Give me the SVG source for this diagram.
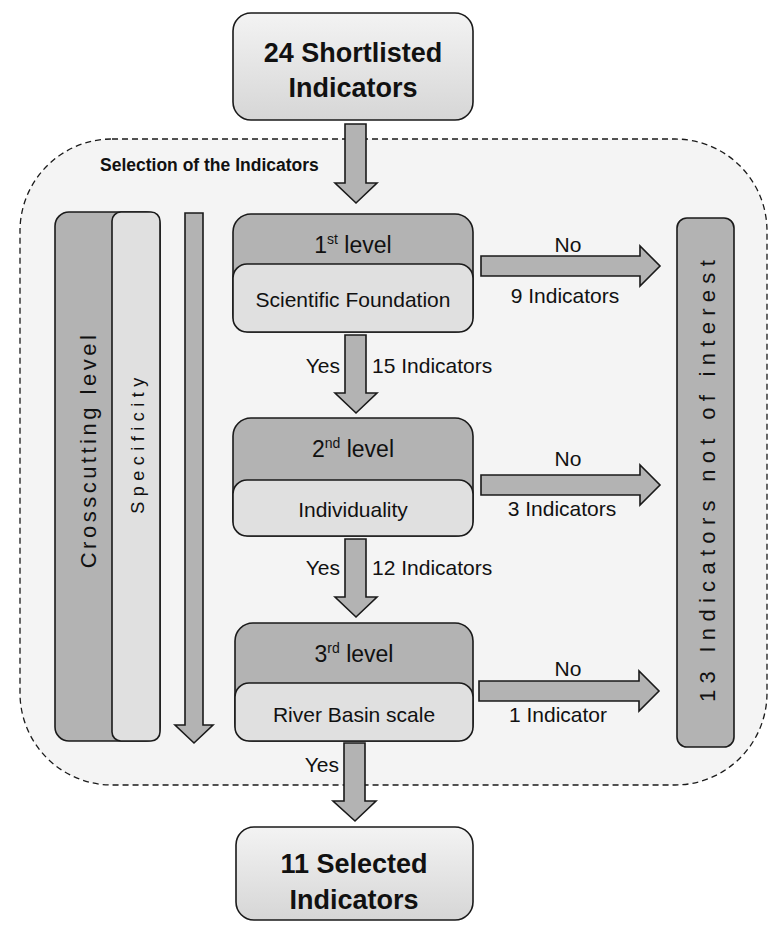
<svg xmlns="http://www.w3.org/2000/svg" width="768" height="929" viewBox="0 0 768 929">
<defs>
<linearGradient id="g" x1="0" y1="0" x2="0" y2="1">
<stop offset="0" stop-color="#f3f3f3"/>
<stop offset="1" stop-color="#d6d6d6"/>
</linearGradient>
<style>
text{font-family:"Liberation Sans",Arial,sans-serif;fill:#111}
.ln{stroke:#1a1a1a;stroke-width:1.6}
.dk{fill:#b3b3b3}
.lt{fill:#e0e0e0}
.arr{fill:#b3b3b3;stroke:#1a1a1a;stroke-width:1.6;stroke-linejoin:miter}
.big{font-size:27px;font-weight:bold;text-anchor:middle}
.lvl{font-size:23px;text-anchor:middle}
.sub{font-size:21px;text-anchor:middle}
.lab{font-size:21px}
</style>
</defs>
<rect width="768" height="929" fill="#ffffff"/>
<g id="selection-region">
<rect x="20" y="139" width="747" height="646" rx="92" ry="92" fill="#f4f4f4" stroke="#1a1a1a" stroke-width="1.3" stroke-dasharray="6 4"/>
<text x="100" y="171" font-size="17.5" font-weight="bold">Selection of the Indicators</text>
</g>
<g id="shortlisted">
<rect x="233" y="13" width="240" height="107" rx="18" fill="url(#g)" class="ln"/>
<text x="353" y="62" class="big">24 Shortlisted</text>
<text x="353" y="97" class="big">Indicators</text>
</g>
<g id="crosscutting">
<rect x="55" y="212" width="105" height="529" rx="14" class="dk ln"/>
<rect x="112" y="212" width="48" height="529" rx="9" class="lt ln"/>
<text transform="translate(88,450) rotate(-90)" font-size="22" letter-spacing="3.5" text-anchor="middle" dominant-baseline="central">Crosscutting level</text>
<text transform="translate(138,443) rotate(-90)" font-size="18" letter-spacing="5.5" text-anchor="middle" dominant-baseline="central">Specificity</text>
</g>
<g id="level1">
<rect x="233" y="214" width="240" height="118" rx="18" class="dk ln"/>
<rect x="233" y="264" width="240" height="68" rx="14" class="lt ln"/>
<text x="353" y="253" class="lvl">1<tspan font-size="14" dy="-9">st</tspan><tspan dy="9"> level</tspan></text>
<text x="353" y="307" class="sub">Scientific Foundation</text>
</g>
<g id="level2">
<rect x="233" y="418" width="240" height="118" rx="18" class="dk ln"/>
<rect x="233" y="480" width="240" height="56" rx="14" class="lt ln"/>
<text x="353" y="457" class="lvl">2<tspan font-size="14" dy="-9">nd</tspan><tspan dy="9"> level</tspan></text>
<text x="353" y="517" class="sub">Individuality</text>
</g>
<g id="level3">
<rect x="235" y="623" width="238" height="118" rx="18" class="dk ln"/>
<rect x="235" y="683" width="238" height="58" rx="14" class="lt ln"/>
<text x="354" y="662" class="lvl">3<tspan font-size="14" dy="-9">rd</tspan><tspan dy="9"> level</tspan></text>
<text x="354" y="722" class="sub">River Basin scale</text>
</g>
<g id="not-of-interest">
<rect x="677" y="218" width="57" height="529" rx="10" class="dk ln"/>
<text transform="translate(707,478) rotate(-90)" font-size="22" letter-spacing="6.3" text-anchor="middle" dominant-baseline="central">13 Indicators not of interest</text>
</g>
<g id="selected">
<rect x="236" y="827" width="237" height="93" rx="18" fill="url(#g)" class="ln"/>
<text x="354" y="873" class="big">11 Selected</text>
<text x="354" y="909" class="big">Indicators</text>
</g>
<g id="connectors">
<polygon class="arr" points="345,124 366,124 366,183 377,183 356,203 335,183 345,183"/>
<polygon class="arr" points="185,213 203,213 203,725 213,725 194,743 175,725 185,725"/>
<polygon class="arr" points="345,335 366,335 366,393 377,393 356,413 335,393 345,393"/>
<polygon class="arr" points="345,539 366,539 366,597 377,597 356,617 335,597 345,597"/>
<polygon class="arr" points="344,743 365,743 365,801 376,801 355,821 333,801 344,801"/>
<polygon class="arr" points="481,256 640,256 640,246 660,266 640,286 640,276 481,276"/>
<polygon class="arr" points="481,475 640,475 640,465 660,485 640,505 640,495 481,495"/>
<polygon class="arr" points="479,681 639,681 639,671 659,691 639,711 639,701 479,701"/>
<text x="568" y="252" class="lab" text-anchor="middle">No</text>
<text x="565" y="303" class="lab" text-anchor="middle">9 Indicators</text>
<text x="568" y="466" class="lab" text-anchor="middle">No</text>
<text x="562" y="516" class="lab" text-anchor="middle">3 Indicators</text>
<text x="568" y="676" class="lab" text-anchor="middle">No</text>
<text x="558" y="722" class="lab" text-anchor="middle">1 Indicator</text>
<text x="340" y="373" class="lab" text-anchor="end">Yes</text>
<text x="372" y="373" class="lab">15 Indicators</text>
<text x="340" y="575" class="lab" text-anchor="end">Yes</text>
<text x="372" y="575" class="lab">12 Indicators</text>
<text x="339" y="772" class="lab" text-anchor="end">Yes</text>
</g>
</svg>
